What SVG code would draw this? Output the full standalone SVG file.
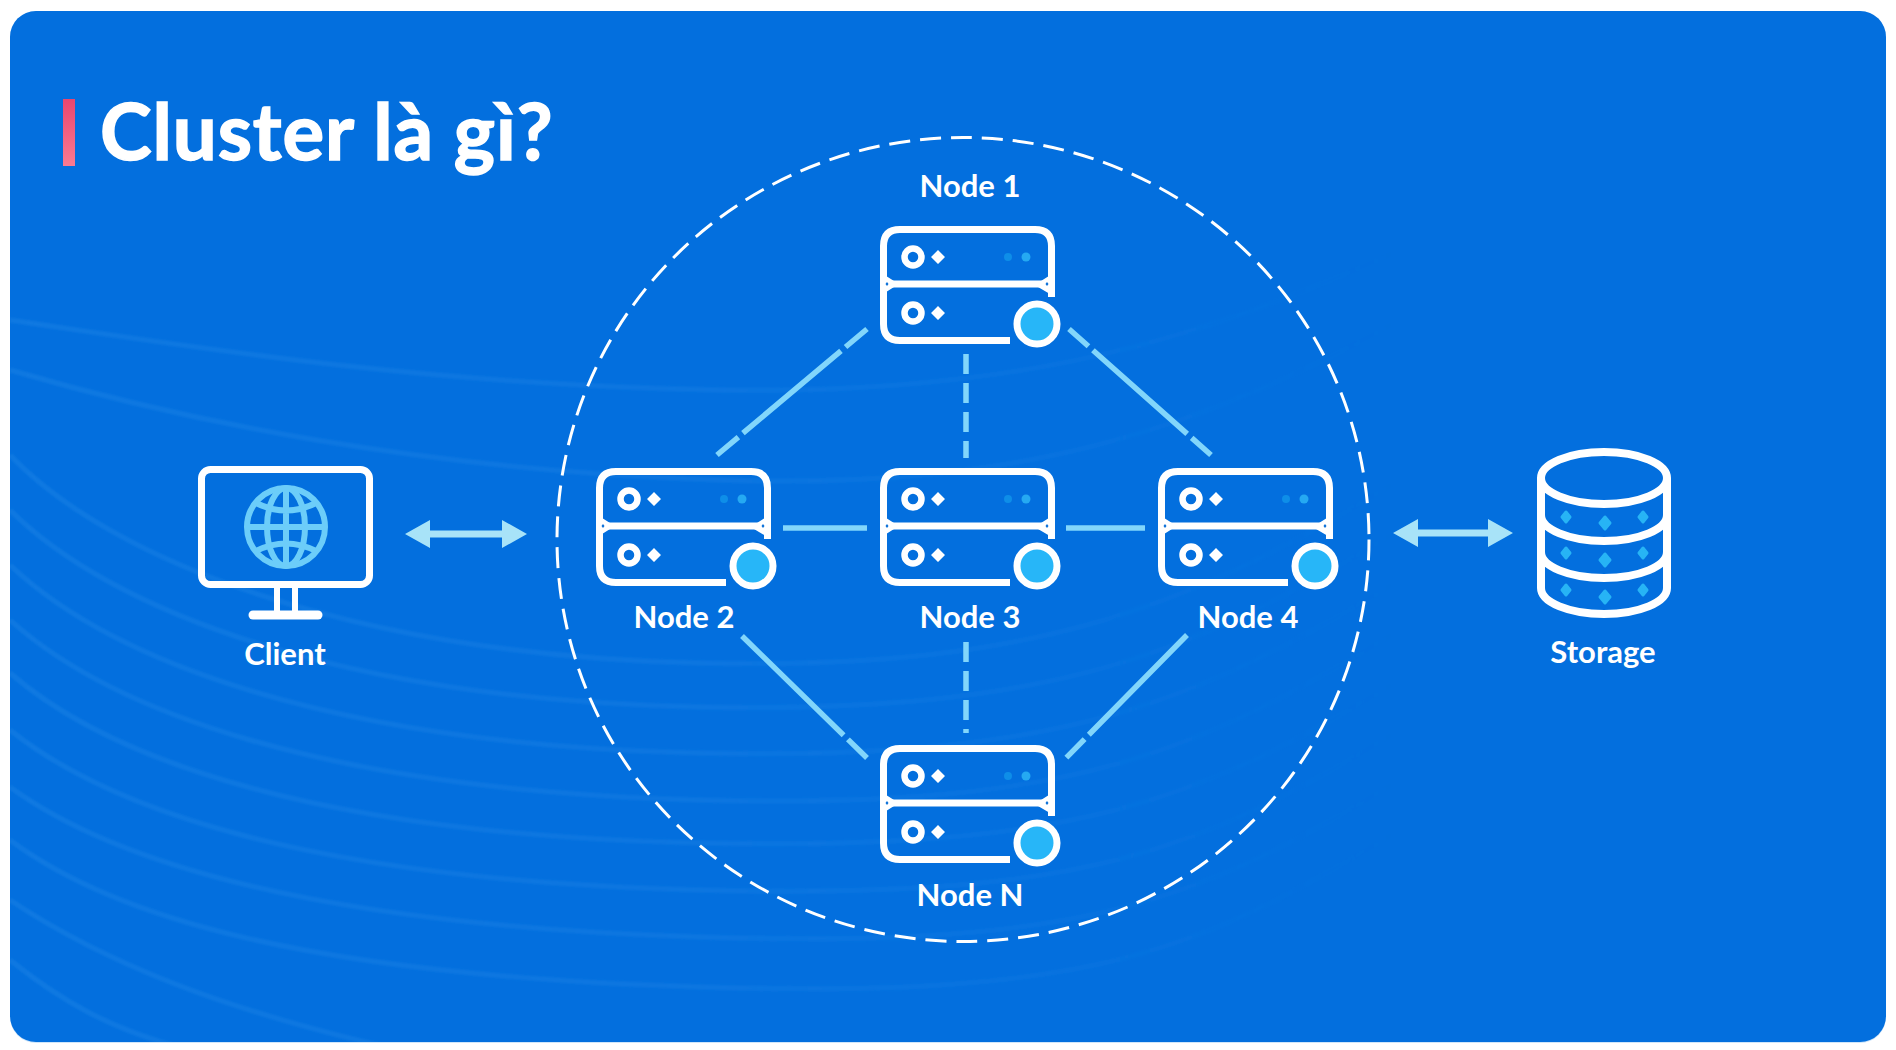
<svg xmlns="http://www.w3.org/2000/svg" width="1896" height="1050" viewBox="0 0 1896 1050">
<style>
text{font-family:"Lato","Liberation Sans",sans-serif;font-weight:700;fill:#fff}
.lbl{font-size:31px;text-anchor:middle}
.ln{stroke:#82d6fb;stroke-width:5.5;fill:none}
.wv{fill:none;stroke:url(#wave);stroke-width:5}
.w{stroke:#fff;fill:none}
.arr{fill:#a8e3f8}
.gl{fill:none;stroke:#6ccdf9;stroke-width:6}
.dot{fill:#27b4f5;stroke:#27b4f5;stroke-width:3;stroke-linejoin:round}
</style>
<defs>
<linearGradient id="bar" x1="0" y1="0" x2="0" y2="1"><stop offset="0" stop-color="#e8466f"/><stop offset="1" stop-color="#fb7a92"/></linearGradient>
<linearGradient id="wave" gradientUnits="userSpaceOnUse" x1="0" y1="0" x2="1400" y2="0"><stop offset="0" stop-color="#3b9bee" stop-opacity=".22"/><stop offset=".5" stop-color="#3b9bee" stop-opacity=".16"/><stop offset="1" stop-color="#3b9bee" stop-opacity="0"/></linearGradient>
<filter id="soft" x="-5%" y="-5%" width="110%" height="110%"><feGaussianBlur stdDeviation="1.2"/></filter>
<clipPath id="panel"><rect x="10" y="11" width="1876" height="1031" rx="26"/></clipPath>
<g id="srv">
<path class="w" stroke-width="7" d="M130 114.500H20Q3.500 114.500 3.500 98V20Q3.500 3.500 20 3.500H155Q171.500 3.500 171.500 20V71"/>
<path class="w" stroke-width="7" d="M3.500 58H171.500"/>
<path fill="#fff" d="M3 48 14 55H3ZM3 68 14 61H3ZM172 48 161 55H172ZM175 71 158 61H175Z"/>
<path fill="#0a6fd8" d="M7 56 8.500 58 7 60 5.500 58ZM167 56 168.500 58 167 60 165.500 58Z"/>
<circle class="w" cx="33" cy="31" r="8.500" stroke-width="6.500"/>
<circle class="w" cx="33" cy="87" r="8.500" stroke-width="6.500"/>
<path fill="#fff" d="M58 24 65 31 58 38 51 31ZM58 80 65 87 58 94 51 87Z"/>
<circle cx="128" cy="31" r="4" fill="#0e8ee8"/>
<circle cx="146" cy="31" r="4.500" fill="#25a9f2"/>
<circle cx="157" cy="98" r="20" fill="#27b6f8" stroke="#fff" stroke-width="7"/>
</g>
</defs>
<rect width="1896" height="1050" fill="#fff"/>
<rect x="10" y="11" width="1876" height="1032" rx="26" fill="#cfe6fa"/>
<rect id="bg" x="10" y="11" width="1876" height="1031" rx="26" fill="#036fde"/>
<g id="waves" clip-path="url(#panel)"><g filter="url(#soft)">
<path class="wv" d="M10 320C180 345 420 385 720 390S1200 340 1400 250"/>
<path class="wv" d="M10 370C180 420 420 470 720 480S1200 430 1400 320"/>
<path class="wv" d="M10 455C110 560 350 655 700 663S1200 600 1400 480"/>
<path class="wv" d="M10 510C110 610 340 700 700 707S1200 650 1400 530"/>
<path class="wv" d="M10 565C110 660 330 745 700 753S1200 700 1400 580"/>
<path class="wv" d="M10 620C110 710 320 790 700 800S1200 750 1400 630"/>
<path class="wv" d="M10 673C110 760 320 835 700 843S1200 800 1400 680"/>
<path class="wv" d="M10 730C110 810 310 880 700 890S1200 850 1400 730"/>
<path class="wv" d="M10 787C110 860 310 925 700 937S1200 900 1400 780"/>
<path class="wv" d="M10 840C110 915 300 975 700 987S1200 950 1400 830"/>
<path class="wv" d="M10 900C100 960 220 1010 400 1050"/>
<path class="wv" d="M10 960C60 1000 110 1030 190 1050"/>
</g></g>
<g id="title">
<rect x="63" y="99" width="12" height="67" fill="url(#bar)"/>
<text x="100" y="160" font-size="78" stroke="#fff" stroke-width="1.500" style="letter-spacing:.9px">Cluster là gì?</text>
</g>
<ellipse id="cluster-boundary" cx="963" cy="539.500" rx="406" ry="402" fill="none" stroke="#fff" stroke-width="3" stroke-dasharray="21 10"/>
<g id="connectors">
<path class="ln" stroke-dasharray="28 6 128 6 28" d="M867 329 717 455"/>
<path class="ln" stroke-dasharray="26 6 126 6 26" d="M1069 329 1211 455"/>
<path class="ln" stroke-dasharray="20 9" d="M966 354V458"/>
<path class="ln" d="M783 528H867"/>
<path class="ln" d="M1066 528H1145"/>
<path class="ln" stroke-dasharray="20 9" d="M966 642V733"/>
<path class="ln" stroke-dasharray="142 6 28" d="M742 636 867 758"/>
<path class="ln" stroke-dasharray="140 6 26" d="M1187 635 1066 758"/>
<path class="arr" id="arrow-client" d="M405 534 430 520V530.500H502V520L527 534 502 548V537.500H430V548Z"/>
<path class="arr" id="arrow-storage" d="M1393 533 1418 519V529.500H1488V519L1513 533 1488 547V536.500H1418V547Z"/>
</g>
<g id="client">
<rect class="w" x="201.500" y="469.500" width="168" height="115" rx="9" stroke-width="7"/>
<path class="w" stroke-width="6" d="M277 588V615M295 588V615"/>
<path class="w" stroke-width="9" stroke-linecap="round" d="M253 615H318"/>
<circle class="gl" cx="286" cy="527" r="39"/>
<ellipse class="gl" cx="286" cy="527" rx="19" ry="39"/>
<path class="gl" d="M286 488V566M250 527H322M256 503Q286 518 316 503M256 551Q286 536 316 551"/>
<text class="lbl" x="285" y="665">Client</text>
</g>
<g id="node-1"><use href="#srv" x="880" y="226"/><text class="lbl" x="970" y="197">Node 1</text></g>
<g id="node-2"><use href="#srv" x="596" y="468"/><text class="lbl" x="684" y="628">Node 2</text></g>
<g id="node-3"><use href="#srv" x="880" y="468"/><text class="lbl" x="970" y="628">Node 3</text></g>
<g id="node-4"><use href="#srv" x="1158" y="468"/><text class="lbl" x="1248" y="628">Node 4</text></g>
<g id="node-n"><use href="#srv" x="880" y="745"/><text class="lbl" x="970" y="906">Node N</text></g>
<g id="storage">
<path class="w" stroke-width="8" d="M1541 478V588A63 26 0 0 0 1667 588V478"/>
<ellipse class="w" stroke-width="8" cx="1604" cy="478" rx="63" ry="26"/>
<path class="w" stroke-width="8" d="M1541 515A63 26 0 0 0 1667 515M1541 552A63 26 0 0 0 1667 552"/>
<path class="dot" d="M1566 512 1570 517 1566 522 1562 517ZM1605 517 1610 523 1605 529 1600 523ZM1643 512 1647 517 1643 522 1639 517ZM1566 548 1570 553 1566 558 1562 553ZM1605 554 1610 560 1605 566 1600 560ZM1643 548 1647 553 1643 558 1639 553ZM1566 585 1570 590 1566 595 1562 590ZM1605 591 1610 597 1605 603 1600 597ZM1643 585 1647 590 1643 595 1639 590Z"/>
<text class="lbl" x="1603" y="663">Storage</text>
</g>
</svg>
